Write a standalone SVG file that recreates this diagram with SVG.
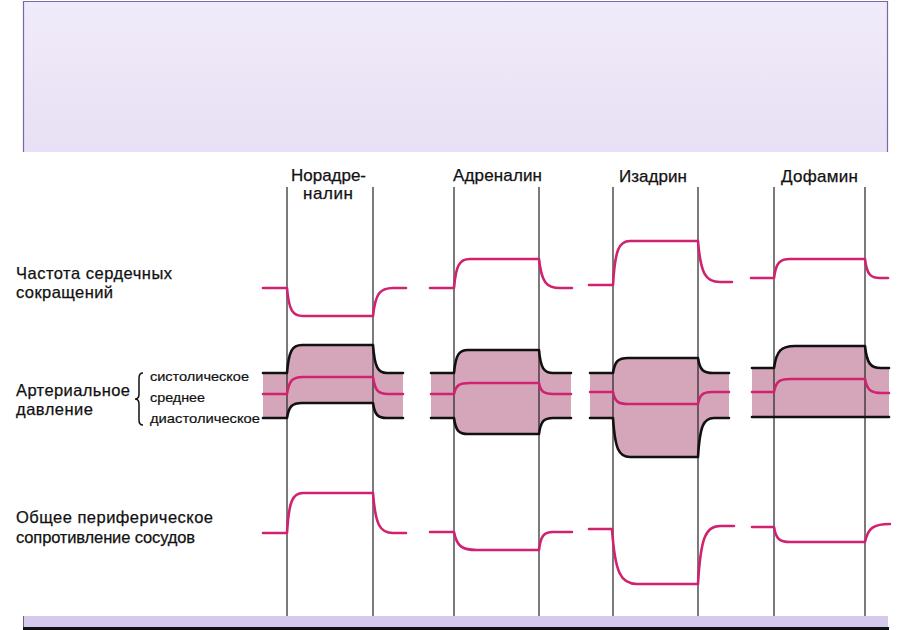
<svg xmlns="http://www.w3.org/2000/svg" width="910" height="630" viewBox="0 0 910 630">
<defs>
<linearGradient id="topg" x1="0" y1="0" x2="0" y2="1">
<stop offset="0" stop-color="#f0ebfa"/>
<stop offset="1" stop-color="#e8e0f4"/>
</linearGradient>
<style>
.lbl{font-family:"Liberation Sans",Arial,sans-serif;font-size:16.5px;fill:#111;stroke:#111;stroke-width:0.25;}
.sm{font-family:"Liberation Sans",Arial,sans-serif;font-size:13.5px;fill:#111;stroke:#111;stroke-width:0.2;}
.hd{font-family:"Liberation Sans",Arial,sans-serif;font-size:17px;fill:#111;stroke:#111;stroke-width:0.25;text-anchor:middle;}
.vl{stroke:#222;stroke-width:1.2;fill:none;}
.pk{stroke:#d0226f;stroke-width:2.6;fill:none;stroke-linecap:round;stroke-linejoin:round;}
.bk{stroke:#111;stroke-width:2.6;fill:none;stroke-linecap:round;stroke-linejoin:round;}
.bp{fill:#d5a6ba;stroke:none;}
</style>
</defs>
<rect width="910" height="630" fill="#fff"/>
<g id="top-box">
<rect x="23" y="1" width="865" height="151" fill="url(#topg)"/>
<path d="M23.5,152 V1.5 H887.5 V152" fill="none" stroke="#7b67a3" stroke-width="1.2"/>
</g>
<g id="bottom-band">
<rect x="23" y="616" width="865" height="12" fill="#d6c9ee"/>
<line x1="23.5" y1="616" x2="23.5" y2="628" stroke="#6d6080" stroke-width="1"/>
<rect x="23" y="627" width="866" height="3" fill="#111"/>
</g>
<g id="labels">
<text class="lbl" x="16" y="279" textLength="156" lengthAdjust="spacing">Частота сердечных</text>
<text class="lbl" x="16" y="298" textLength="97" lengthAdjust="spacing">сокращений</text>
<text class="lbl" x="16" y="396" textLength="114" lengthAdjust="spacing">Артериальное</text>
<text class="lbl" x="16" y="415" textLength="77" lengthAdjust="spacing">давление</text>
<path d="M143,373 Q139,373 139,378 L139,394 Q139,399 135,399 Q139,399 139,404 L139,420 Q139,425 143,425" fill="none" stroke="#111" stroke-width="1.5"/>
<text class="sm" x="150" y="381" textLength="99" lengthAdjust="spacingAndGlyphs">систолическое</text>
<text class="sm" x="150" y="402" textLength="55" lengthAdjust="spacingAndGlyphs">среднее</text>
<text class="sm" x="150" y="423" textLength="110" lengthAdjust="spacingAndGlyphs">диастолическое</text>
<text class="lbl" x="16" y="523" textLength="197" lengthAdjust="spacing">Общее периферическое</text>
<text class="lbl" x="16" y="543" textLength="179" lengthAdjust="spacing">сопротивление сосудов</text>
</g>
<g id="headers">
<text class="hd" x="328.5" y="181" textLength="75" lengthAdjust="spacing">Норадре-</text>
<text class="hd" x="328" y="199" textLength="50" lengthAdjust="spacing">налин</text>
<text class="hd" x="497.5" y="181" textLength="89" lengthAdjust="spacing">Адреналин</text>
<text class="hd" x="653" y="182" textLength="68" lengthAdjust="spacing">Изадрин</text>
<text class="hd" x="819.5" y="182" textLength="77" lengthAdjust="spacing">Дофамин</text>
</g>
<g id="bp-fills">
<path class="bp" d="M263,373 L287,373 C288.8,350.6 292.3,345 302,345 L373,345 C374.7,367.4 377.9,373 387,373 L403,373 L403,418 L387,418 C377.9,418 374.7,415 373,403 L302,403 C292.3,403 288.8,406 287,418 L263,418 Z"/>
<path class="bp" d="M431,373 L454,373 C455.7,354.6 458.9,350 468,350 L539,350 C540.7,368.4 543.9,373 553,373 L571,373 L571,418 L553,418 C543.9,418 540.7,421.2 539,434 L468,434 C458.9,434 455.7,430.8 454,418 L431,418 Z"/>
<path class="bp" d="M590,373 L613,373 C614.8,361 618.3,358 628,358 L698,358 C699.8,370 703.3,373 713,373 L729,373 L729,418 L714,418 C703.6,418 699.9,425.8 698,457 L630,457 C619,457 615,449.2 613,418 L590,418 Z"/>
<path class="bp" d="M752,368 L774,368 C776.5,350.4 781.4,346 795,346 L865,346 C866.9,363.6 870.6,368 881,368 L889,368 L889,417 L752,417 Z"/>
</g>
<g id="verticals">
<line class="vl" x1="287" y1="187" x2="287" y2="616"/>
<line class="vl" x1="373" y1="187" x2="373" y2="616"/>
<line class="vl" x1="454" y1="187" x2="454" y2="616"/>
<line class="vl" x1="539" y1="187" x2="539" y2="616"/>
<line class="vl" x1="613" y1="187" x2="613" y2="616"/>
<line class="vl" x1="698" y1="187" x2="698" y2="616"/>
<line class="vl" x1="774" y1="187" x2="774" y2="616"/>
<line class="vl" x1="865" y1="187" x2="865" y2="616"/>
</g>
<g id="heart-rate">
<path class="pk" d="M263,288 L287,288 C288.9,310.4 292.6,316 303,316 L373,316 C375.4,293.6 380,288 393,288 L406,288"/>
<path class="pk" d="M430,288 L454,288 C455.9,264.8 459.6,259 470,259 L539,259 C541.5,282.2 546.4,288 560,288 L572,288"/>
<path class="pk" d="M589,285 L613,285 C615,249.8 619,241 630,241 L698,241 C700.6,273.8 705.7,282 720,282 L732,282"/>
<path class="pk" d="M751,278 L774,278 C775.9,262.8 779.6,259 790,259 L865,259 C866.8,274.2 870.3,278 880,278 L888,278"/>
</g>
<g id="blood-pressure">
<path class="bk" d="M263,373 L287,373 C288.8,350.6 292.3,345 302,345 L373,345 C374.7,367.4 377.9,373 387,373 L403,373"/>
<path class="pk" d="M263,394 L287,394 C288.9,380.4 292.6,377 303,377 L373,377 C374.8,390.6 378.3,394 388,394 L403,394"/>
<path class="bk" d="M263,418 L287,418 C288.8,406 292.3,403 302,403 L373,403 C374.7,415 377.9,418 387,418 L403,418"/>
<path class="bk" d="M431,373 L454,373 C455.7,354.6 458.9,350 468,350 L539,350 C540.7,368.4 543.9,373 553,373 L571,373"/>
<path class="pk" d="M431,394 L454,394 C455.9,385.2 459.6,383 470,383 L539,383 C540.7,391.8 543.9,394 553,394 L571,394"/>
<path class="bk" d="M431,418 L454,418 C455.7,430.8 458.9,434 468,434 L539,434 C540.7,421.2 543.9,418 553,418 L571,418"/>
<path class="bk" d="M590,373 L613,373 C614.8,361 618.3,358 628,358 L698,358 C699.8,370 703.3,373 713,373 L729,373"/>
<path class="pk" d="M590,392 L613,392 C614.8,401.6 618.3,404 628,404 L698,404 C699.7,394.4 702.9,392 712,392 L729,392"/>
<path class="bk" d="M590,418 L613,418 C615,449.2 619,457 630,457 L698,457 C699.9,425.8 703.6,418 714,418 L729,418"/>
<path class="bk" d="M752,368 L774,368 C776.5,350.4 781.4,346 795,346 L865,346 C866.9,363.6 870.6,368 881,368 L889,368"/>
<path class="pk" d="M752,392 L774,392 C775.9,381.6 779.6,379 790,379 L865,379 C867,390.2 871,393 882,393 L889,393"/>
<path class="bk" d="M752,417 L889,417"/>
</g>
<g id="resistance">
<path class="pk" d="M263,533 L287,533 C288.9,501 292.6,493 303,493 L373,493 C375.4,525 380,533 393,533 L406,533"/>
<path class="pk" d="M430,532 L454,532 C456.8,546.4 462,550 477,550 L539,550 C540.7,535.6 543.9,532 553,532 L572,532"/>
<path class="pk" d="M589,529 L612,529 C615,573 620.8,584 637,584 L698,584 C700.6,537.6 705.7,526 720,526 L734,526"/>
<path class="pk" d="M752,527 L774,527 C775.9,539 779.6,542 790,542 L865,542 C868,527.6 873.8,524 890,524"/>
</g>
</svg>
